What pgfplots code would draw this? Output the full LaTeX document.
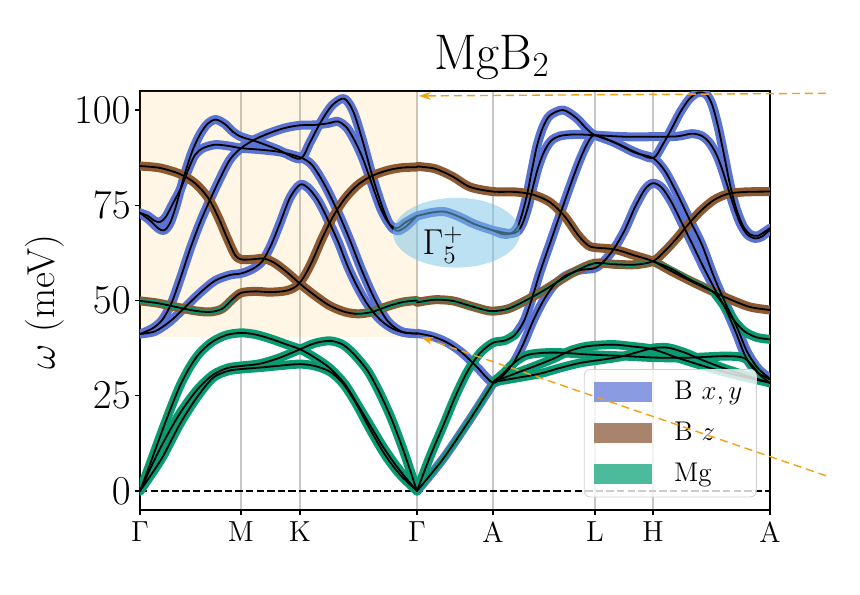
\RequirePackage{fix-cm}
\documentclass[border=0pt]{standalone}
\usepackage{pgfplots}
\pgfplotsset{compat=1.18}
\usepackage{pgfplotstable}
\usetikzlibrary{arrows.meta}

\definecolor{bblue}{RGB}{90,115,210}
\definecolor{bbrown}{RGB}{139,90,50}
\definecolor{bgreen}{RGB}{10,155,115}
\definecolor{lblue}{RGB}{138,155,225}
\definecolor{lbrown}{RGB}{168,132,108}
\definecolor{lgreen}{RGB}{76,187,156}
\definecolor{shadecol}{RGB}{255,165,0}
\definecolor{ellcol}{RGB}{120,195,232}
\definecolor{arrcol}{RGB}{245,160,20}

% ---------- left part: Gamma-M-K-Gamma ----------
\pgfplotstableread{
x y
0 85.3
20 84.8
40 83.2
55 80.8
68 77.0
78 72.0
87 66.5
95 62.0
101 60.8
112 60.8
124 61.0
135 59.8
148 57.2
160 54.4
175 51.3
190 48.6
205 47.0
218 46.5
232 47.0
248 48.5
263 49.6
277 50.0
}\tBgL

\pgfplotstableread{
x y
0 49.9
18 49.3
36 48.3
55 47.3
70 47.0
82 47.8
92 50.2
101 52.0
115 52.4
130 52.2
145 52.5
155 53.5
163 55.8
172 60.2
182 66.2
193 72.0
205 76.8
218 80.4
232 82.7
248 84.2
263 84.9
277 85.0
}\tAuL

\pgfplotstableread{
x y
0 73.0
10 71.0
18 69.0
24 68.4
30 70.3
36 74.8
44 82.5
52 89.0
60 93.6
68 96.5
76 97.5
85 96.3
93 94.3
101 93.0
118 91.6
138 89.6
160 87.2
170 91.5
180 96.5
192 101.2
204 103.0
213 99.8
222 92.5
232 83.0
242 74.8
250 69.8
257 68.3
265 69.2
277 72.2
}\tEgaL

\pgfplotstableread{
x y
0 73.0
8 72.2
14 71.0
20 70.6
26 72.0
33 75.5
41 79.5
48 84.2
55 88.2
63 90.0
75 90.9
88 90.6
101 90.0
120 89.6
140 89.0
160 87.6
172 85.6
185 80.2
198 73.2
210 65.8
222 57.8
235 50.2
248 44.5
262 41.8
277 41.3
}\tEgbL

\pgfplotstableread{
x y
0 41.2
12 42.6
22 44.8
31 49.0
40 55.5
50 63.4
60 70.4
70 76.4
80 82.0
90 87.0
101 90.0
115 92.3
130 94.0
145 95.3
160 96.0
175 96.1
188 96.5
198 97.0
207 95.3
215 91.8
223 87.2
232 80.5
241 74.0
249 70.2
257 69.0
266 70.6
277 72.2
}\tEuaL

\pgfplotstableread{
x y
0 41.2
15 41.9
30 44.5
45 48.2
60 52.0
75 55.2
90 56.7
101 57.1
112 58.2
122 60.2
131 64.5
140 70.3
150 77.0
160 80.4
168 79.6
178 76.3
188 71.2
198 65.5
208 58.8
218 53.3
228 48.8
240 45.0
252 42.7
264 41.6
277 41.3
}\tEubL

\pgfplotstableread{
x y
0 0
10 7.0
20 14.2
30 21.2
40 27.6
50 32.6
60 36.3
72 39.1
86 40.9
101 41.5
115 41.1
130 40.0
145 38.6
160 37.2
175 35.0
190 32.2
205 28.0
218 22.5
232 16.4
245 10.8
260 5.3
277 0
}\tAcLa

\pgfplotstableread{
x y
0 0
12 6.8
23 12.6
40 20.4
57 26.5
73 30.5
88 32.3
101 32.8
120 33.4
140 35.0
160 37.2
175 38.8
190 39.4
203 38.4
215 35.6
228 31.4
240 25.6
252 18.6
264 10.2
277 0
}\tAcLb

\pgfplotstableread{
x y
0 0
12 4.6
23 9.1
40 17.6
57 24.6
73 29.7
88 31.5
101 32.0
120 32.4
140 32.9
160 33.3
175 32.8
190 31.3
203 28.2
216 23.0
230 16.2
245 9.5
260 4.3
277 0
}\tAcLc

% ---------- right part: Gamma-A-L-H-A ----------
\pgfplotstableread{
x y
277 85.2
295 84.6
313 82.5
330 79.8
353 78.6
375 78.5
393 77.8
410 75.8
425 72.0
438 67.2
448 64.5
455 63.9
475 63.4
495 61.8
513 60.3
530 57.9
550 55.2
570 52.7
590 50.3
610 48.3
630 47.5
}\tBgR

\pgfplotstableread{
x y
277 49.5
295 50.2
313 49.9
330 48.6
345 47.5
353 47.2
368 47.8
385 49.9
403 52.5
420 55.3
437 57.9
455 59.8
475 59.5
495 59.4
513 60.3
525 63.0
537 66.4
549 70.2
561 73.6
574 76.4
588 78.0
605 78.5
630 78.6
}\tAuR

\pgfplotstableread{
x y
513 60.3
530 58.5
550 55.5
565 53.6
575 51.8
585 48.3
595 44.5
605 41.8
617 40.3
630 39.8
}\tGR

\pgfplotstableread{
x y
277 72.2
292 73.1
305 73.3
320 71.9
335 70.0
353 68.4
363 67.4
371 67.6
377 69.0
382 72.6
387 77.7
392 84.3
397 90.6
403 95.5
410 98.6
423 100.0
436 98.0
447 95.0
455 93.4
475 91.5
495 89.0
513 87.4
522 90.6
531 94.8
540 99.3
549 102.8
558 104.6
566 104.2
572 101.5
578 95.8
584 88.3
590 80.5
596 74.3
603 69.6
610 67.4
618 67.0
630 69.0
}\tPR

\pgfplotstableread{
x y
353 68.4
364 67.8
372 67.6
378 68.2
383 70.5
388 74.5
393 79.8
398 84.8
404 89.0
411 91.9
420 93.2
435 93.6
455 93.4
485 93.0
513 93.0
537 93.1
552 93.8
562 93.2
569 91.6
576 88.6
582 84.6
588 79.6
594 74.6
600 70.4
607 67.4
615 66.3
622 66.8
630 68.6
}\tQR

\pgfplotstableread{
x y
277 0
290 9.0
303 17.0
316 25.2
328 31.6
340 36.2
353 38.9
365 39.5
375 41.0
384 44.6
392 50.5
400 57.4
410 65.0
420 72.5
430 80.0
440 87.0
448 91.5
455 93.4
475 91.4
495 88.8
513 87.4
525 84.0
538 77.6
550 71.0
562 64.6
574 56.2
586 49.0
597 43.0
607 36.6
618 32.2
630 29.5
}\tRaR

\pgfplotstableread{
x y
277 41.4
292 40.6
307 39.0
322 36.3
337 32.5
353 28.4
363 30.3
373 33.4
383 38.4
393 44.6
403 49.8
413 53.7
425 56.4
440 58.0
455 58.5
465 60.6
475 64.0
485 68.6
495 74.5
505 79.2
513 80.8
522 79.6
532 75.6
542 70.3
552 65.0
563 59.0
575 52.9
586 47.6
596 41.6
605 35.6
615 31.6
630 29.3
}\tRbR

\pgfplotstableread{
x y
277 0
303 8.4
330 18.8
353 28.2
}\tTAR

\pgfplotstableread{
x y
353 28.6
363 30.8
373 33.4
385 35.5
400 36.2
420 36.3
450 35.8
485 35.4
517 35.0
550 35.0
585 35.4
603 35.0
612 33.0
621 30.2
630 28.4
}\tMaR

\pgfplotstableread{
x y
353 28.6
370 30.3
385 31.8
400 33.3
415 34.9
430 36.8
445 37.9
460 38.3
475 38.4
490 38.0
513 37.2
537 35.0
555 33.5
575 31.9
600 30.2
630 28.4
}\tMbR

\pgfplotstableread{
x y
353 28.6
375 29.6
400 30.8
420 32.3
440 33.6
460 34.4
480 35.2
497 36.4
513 37.5
528 37.6
545 36.3
562 34.4
582 32.4
605 30.4
630 28.4
}\tMcR

\pgfplotsset{
  col/.style={line width=4.5pt, line cap=round, line join=round, smooth, tension=0.5, forget plot},
  blk/.style={black, line width=0.9pt, line cap=round, line join=round, smooth, tension=0.5, forget plot},
}

\begin{document}
\begin{tikzpicture}
\begin{axis}[
  scale only axis, width=315pt, height=209.5pt,
  xmin=0, xmax=630, ymin=-5, ymax=105,
  xtick={0,101,160,277,353,455,513,630},
  xticklabels={$\Gamma$,M,K,$\Gamma$,A,L,H,A},
  ytick={0,25,50,75,100},
  tick align=outside, major tick length=2.5pt,
  tick style={black, line width=0.6pt},
  xtick pos=lower, ytick pos=left,
  xmajorgrids, grid style={black!22, line width=1pt},
  axis line style={line width=0.6pt},
  x tick label style={font=\fontsize{14.5}{16}\selectfont},
  y tick label style={font=\fontsize{20.5}{22}\selectfont, inner sep=2pt},
  ylabel={$\omega$ (meV)},
  ylabel style={font=\fontsize{19.5}{21}\selectfont, at={(axis description cs:-0.151,0.496)}, anchor=center},
  title={MgB$_2$},
  title style={font=\fontsize{25}{28}\selectfont, at={(axis description cs:0.5587,1)}, anchor=base, yshift=5pt},
  legend style={at={(0.979,0.3365)}, anchor=north east, draw=black!18, fill=white, fill opacity=0.8, text opacity=1, rounded corners=3pt, font=\fontsize{13.5}{15}\selectfont, inner xsep=5pt, inner ysep=4pt, row sep=5.8pt, /tikz/every odd column/.append style={column sep=9pt}},
  legend cell align=left,
]
\fill[shadecol, opacity=0.1] (axis cs:0,40.5) rectangle (axis cs:277,105);
\addplot[black, line width=1pt, dash pattern=on 3.7pt off 1.6pt, forget plot] coordinates {(0,0) (630,0)};

% colored strokes: blue
\addplot[col, bblue] table {\tEgaL};
\addplot[col, bblue] table {\tEgbL};
\addplot[col, bblue] table {\tEuaL};
\addplot[col, bblue] table {\tEubL};
\addplot[col, bblue] table {\tPR};
\addplot[col, bblue] table {\tQR};
\addplot[col, bblue] table {\tRbR};
\addplot[col, bblue, restrict x to domain=375:630] table {\tRaR};
\addplot[col, bblue] table {\tTAR};
% brown
\addplot[col, bbrown] table {\tBgL};
\addplot[col, bbrown] table {\tAuL};
\addplot[col, bbrown] table {\tBgR};
\addplot[col, bbrown] table {\tAuR};
% green
\addplot[col, bgreen] table {\tAcLa};
\addplot[col, bgreen] table {\tAcLb};
\addplot[col, bgreen] table {\tAcLc};
\addplot[col, bgreen, restrict x to domain=277:375] table {\tRaR};
\addplot[col, bgreen, line width=3pt] table {\tTAR};
\addplot[col, bgreen] table {\tMaR};
\addplot[col, bgreen] table {\tMbR};
\addplot[col, bgreen] table {\tMcR};
\addplot[col, bgreen, line width=2.6pt, restrict x to domain=0:92] table {\tAuL};
\addplot[col, bgreen, line width=2.6pt, restrict x to domain=218:277] table {\tBgL};
\addplot[col, bgreen, line width=2pt, restrict x to domain=277:513] table {\tAuR};
\addplot[col, bgreen, line width=2pt, restrict x to domain=513:575] table {\tGR};
\addplot[col, bgreen, restrict x to domain=575:630] table {\tGR};

% black cores
\addplot[blk] table {\tBgL};
\addplot[blk] table {\tAuL};
\addplot[blk] table {\tEgaL};
\addplot[blk] table {\tEgbL};
\addplot[blk] table {\tEuaL};
\addplot[blk] table {\tEubL};
\addplot[blk] table {\tAcLa};
\addplot[blk] table {\tAcLb};
\addplot[blk] table {\tAcLc};
\addplot[blk] table {\tBgR};
\addplot[blk] table {\tAuR};
\addplot[blk] table {\tGR};
\addplot[blk] table {\tPR};
\addplot[blk] table {\tQR};
\addplot[blk] table {\tRaR};
\addplot[blk] table {\tRbR};
\addplot[blk] table {\tTAR};
\addplot[blk] table {\tMaR};
\addplot[blk] table {\tMbR};
\addplot[blk] table {\tMcR};

\fill[ellcol, opacity=0.5] (axis cs:316.5,67.8) ellipse [x radius=63.5, y radius=9.16];
\node[font=\fontsize{18}{20}\selectfont] at (axis cs:303,64.5) {$\Gamma_5^+$};

\addlegendimage{legend image code/.code={\fill[lblue, fill opacity=1, sharp corners] (0pt,-4.75pt) rectangle (28.5pt,4.75pt);}}
\addlegendentry{B $x,y$}
\addlegendimage{legend image code/.code={\fill[lbrown, fill opacity=1, sharp corners] (0pt,-4.75pt) rectangle (28.5pt,4.75pt);}}
\addlegendentry{B $z$}
\addlegendimage{legend image code/.code={\fill[lgreen, fill opacity=1, sharp corners] (0pt,-4.75pt) rectangle (28.5pt,4.75pt);}}
\addlegendentry{Mg}

\coordinate (BL) at (rel axis cs:-0.2222,-0.2005);
\coordinate (TR) at (rel axis cs:1.1429,1.2172);
\coordinate (t1) at (axis cs:686,104.4);
\coordinate (h1) at (axis cs:279,103.7);
\coordinate (t2) at (axis cs:686,4.0);
\coordinate (h2) at (axis cs:281,40.4);
\end{axis}
\draw[arrcol, line width=0.7pt, dash pattern=on 4pt off 2.5pt, -{Stealth[length=6pt,width=4pt]}] (t1) -- (h1);
\draw[arrcol, line width=0.7pt, dash pattern=on 4pt off 2.5pt, -{Stealth[length=6pt,width=4pt]}] (t2) -- (h2);
\pgfresetboundingbox
\path[use as bounding box] (BL) rectangle (TR);
\end{tikzpicture}
\end{document}
